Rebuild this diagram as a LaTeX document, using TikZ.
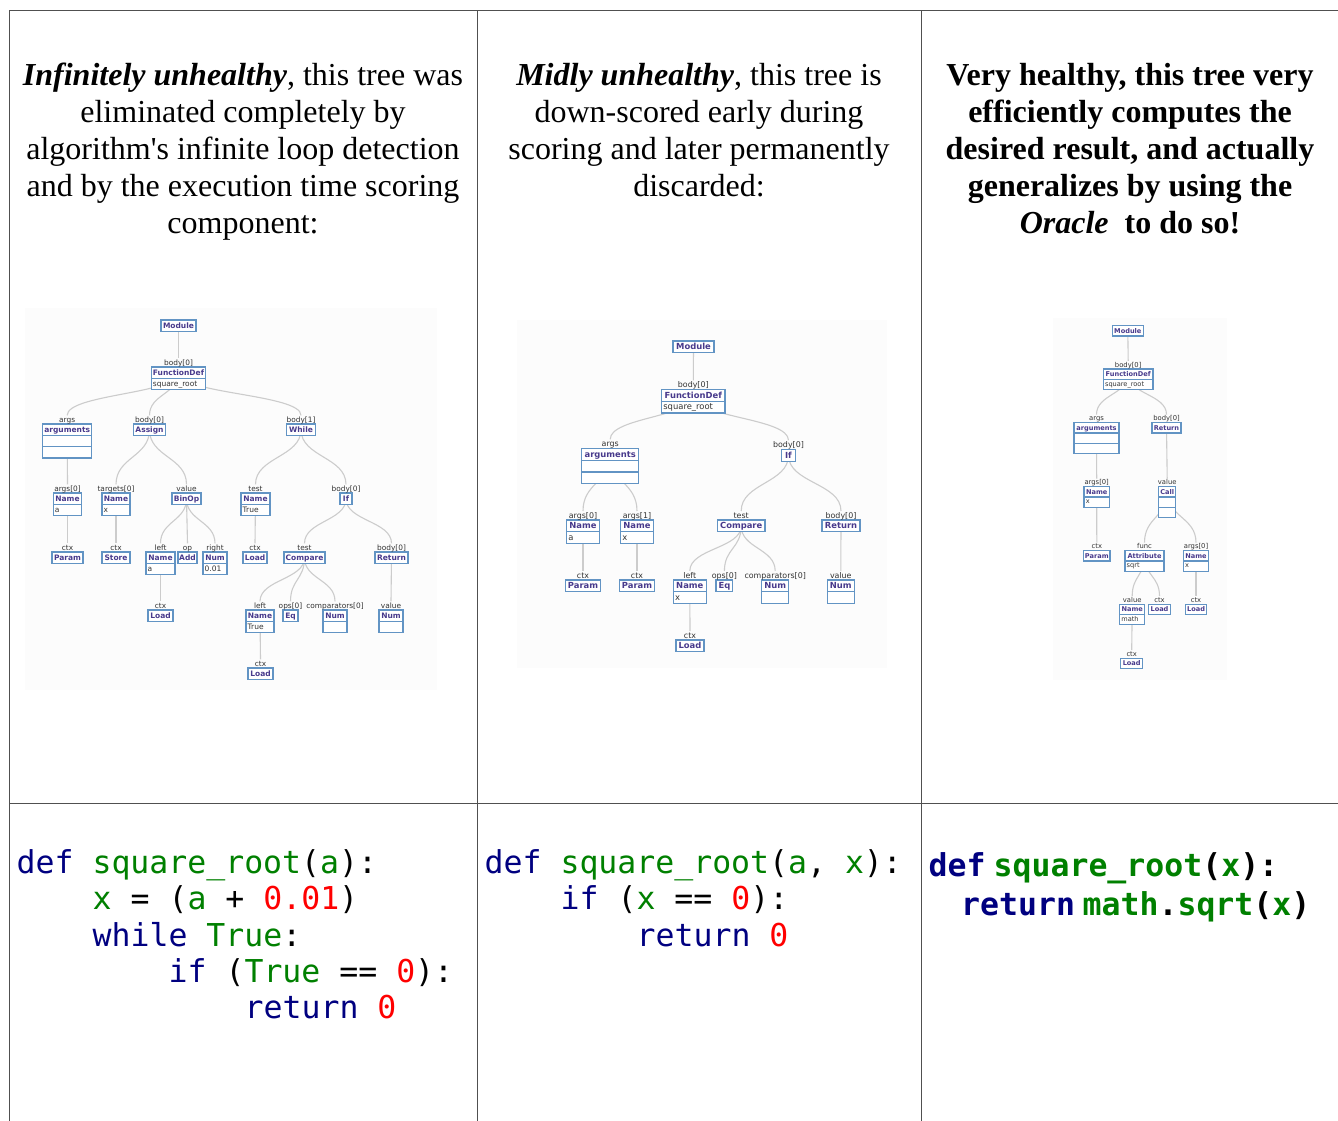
\documentclass[tikz,border=0pt]{standalone}
\usepackage{fontspec}
\setmainfont{Liberation Serif}
\newfontfamily\treefont{DejaVu Sans}
\newfontfamily\codefont{DejaVu Sans Mono}
\usetikzlibrary{calc}
\pgfdeclarelayer{bgrect}
\pgfdeclarelayer{edges}
\pgfsetlayers{bgrect,edges,main}
\definecolor{kw}{RGB}{0,0,128}
\definecolor{nm}{RGB}{0,128,0}
\definecolor{nb}{RGB}{255,0,0}
\definecolor{tborder}{RGB}{98,148,196}
\definecolor{ttype}{RGB}{72,58,140}
\definecolor{tedgec}{RGB}{204,204,204}
\definecolor{tlab}{RGB}{51,51,51}
\definecolor{gridc}{RGB}{80,80,80}
\definecolor{tbgc}{RGB}{252,252,252}
\newcommand\trh{11.3}
\newcommand\tfs{7.5}
\newcommand\lfs{7.4}
\newcommand\setT[3]{\renewcommand\trh{#1}\renewcommand\tfs{#2}\renewcommand\lfs{#3}}
% id, cx, ytop, width, label, type, extra rows, row text
\newcommand\astn[8]{%
  \node[tboxst, minimum width=#4pt, minimum height={(1+#7)*\trh*1pt}, anchor=north] (#1-box) at (#2,#3) {};
  \coordinate (#1) at (#2,{#3+\trh/2});
  \coordinate (#1-l) at (#2,{#3-3-0.76*\lfs});
  \node[ttypest] (#1-t) at (#2,{#3+\trh/2+0.36*\tfs}) {#6};
  \node[tlabst] (#1-lab) at (#2,{#3-2}) {#5};
  \ifnum#7>0 \draw[tlinest] ({#2-#4/2},{#3+\trh}) -- ({#2+#4/2},{#3+\trh});\fi
  \ifnum#7>1 \draw[tlinest] ({#2-#4/2},{#3+2*\trh}) -- ({#2+#4/2},{#3+2*\trh});\fi
  \node[trowst] (#1-r) at ({#2-#4/2+1.5},{#3+1.5*\trh+0.3*\tfs}) {#8};
}
\newcommand\aste[2]{%
  \path ($(#1)!0.5!(#2-l)$) coordinate (tmid);
  \draw[tedgest] (#1) .. controls (#1 |- tmid) and (#2-l |- tmid) .. (#2-l);
}
\tikzset{
  tboxst/.style={draw=tborder, line width=1.2pt, fill=white, inner sep=0pt, outer sep=0pt},
  tlinest/.style={draw=tborder, line width=1.2pt},
  ttypest/.style={font=\treefont\bfseries\fontsize{\tfs}{\tfs}\selectfont, text=ttype, anchor=base, inner sep=0pt},
  tlabst/.style={font=\treefont\fontsize{\lfs}{\lfs}\selectfont, text=tlab, anchor=base, inner sep=0pt},
  trowst/.style={font=\treefont\fontsize{\tfs}{\tfs}\selectfont, text=tlab, anchor=base west, inner sep=0pt},
  tedgest/.style={draw=tedgec, line width=1.1pt},
  gridst/.style={draw=gridc, line width=1pt},
  hdr/.style={font=\fontsize{32}{36.75}\selectfont, anchor=base, inner sep=0pt},
  codest/.style={font=\codefont\fontsize{31.5}{36}\selectfont, anchor=base west, inner sep=0pt},
  codeb/.style={font=\codefont\bfseries\fontsize{31.5}{36}\selectfont, anchor=base west, inner sep=0pt},
  treebg/.style={fill=tbgc, draw=none}
}
\begin{document}
\begin{tikzpicture}[x=1pt, y=-1pt]
\useasboundingbox (0,0) rectangle (1338,1121);
\begin{pgfonlayer}{bgrect}
\fill[white] (0,0) rectangle (1338,1121);
\path[treebg] (25,308) rectangle (437,690);
\path[treebg] (517,320) rectangle (887,668);
\path[treebg] (1053,318) rectangle (1227,680);
\end{pgfonlayer}
% table
\draw[gridst] (9,11) -- (1338,11);
\draw[gridst] (9,803) -- (1338,803);
\draw[gridst] (9,11) -- (9,1121);
\draw[gridst] (477,11) -- (477,1121);
\draw[gridst] (921,11) -- (921,1121);
% headers
\node[hdr] (h11) at (243,86) {\textbf{\textit{Infinitely unhealthy}}, this tree was};
\node[hdr] (h12) at (243,122.75) {eliminated completely by};
\node[hdr] (h13) at (243,159.5) {algorithm\textquotesingle s infinite loop detection};
\node[hdr] (h14) at (243,196.25) {and by the execution time scoring};
\node[hdr] (h15) at (243,233) {component:};
\node[hdr] (h21) at (699,86) {\textbf{\textit{Midly unhealthy}}, this tree is};
\node[hdr] (h22) at (699,122.75) {down-scored early during};
\node[hdr] (h23) at (699,159.5) {scoring and later permanently};
\node[hdr] (h24) at (699,196.25) {discarded:};
\node[hdr, font=\bfseries\fontsize{32}{36.75}\selectfont] (h31) at (1130,86) {Very healthy, this tree very};
\node[hdr, font=\bfseries\fontsize{32}{36.75}\selectfont] (h32) at (1130,122.75) {efficiently computes the};
\node[hdr, font=\bfseries\fontsize{32}{36.75}\selectfont] (h33) at (1130,159.5) {desired result, and actually};
\node[hdr, font=\bfseries\fontsize{32}{36.75}\selectfont] (h34) at (1130,196.25) {generalizes by using the};
\node[hdr, font=\bfseries\fontsize{32}{36.75}\selectfont] (h35) at (1130,233) {\textit{Oracle}\hspace{8pt} to do so!};
% ---------- tree 1
\setT{11.3}{7.5}{7.4}
\astn{a1}{178.5}{320}{35}{}{Module}{0}{}
\astn{a2}{178.5}{367}{54.5}{body[0]}{FunctionDef}{1}{square\_root}
\astn{a3}{67.2}{424}{49}{args}{arguments}{2}{}
\astn{a4}{149.5}{424}{31.5}{body[0]}{Assign}{0}{}
\astn{a5}{301}{424}{28.3}{body[1]}{While}{0}{}
\astn{a6}{67.5}{493}{28.5}{args[0]}{Name}{1}{a}
\astn{a7}{116}{493}{28}{targets[0]}{Name}{1}{x}
\astn{a8}{186.5}{493}{29}{value}{BinOp}{0}{}
\astn{a9}{255.5}{493}{29}{test}{Name}{1}{True}
\astn{a10}{346}{493}{12}{body[0]}{If}{0}{}
\astn{a11}{67.5}{552}{31}{ctx}{Param}{0}{}
\astn{a12}{116}{552}{28}{ctx}{Store}{0}{}
\astn{a13}{160.5}{552}{29}{left}{Name}{1}{a}
\astn{a14}{187.5}{552}{19}{op}{Add}{0}{}
\astn{a15}{215}{552}{24}{right}{Num}{1}{0.01}
\astn{a16}{255}{552}{24}{ctx}{Load}{0}{}
\astn{a17}{304.5}{552}{41}{test}{Compare}{0}{}
\astn{a18}{391.5}{552}{33}{body[0]}{Return}{0}{}
\astn{a19}{160.5}{610}{25}{ctx}{Load}{0}{}
\astn{a20}{260}{610}{28}{left}{Name}{1}{True}
\astn{a21}{290.5}{610}{15}{ops[0]}{Eq}{0}{}
\astn{a22}{335}{610}{24}{comparators[0]}{Num}{1}{}
\astn{a23}{391}{610}{24}{value}{Num}{1}{}
\astn{a24}{260.5}{668}{25}{ctx}{Load}{0}{}
\begin{pgfonlayer}{edges}
\aste{a1}{a2}\aste{a2}{a3}\aste{a2}{a4}\aste{a2}{a5}
\aste{a3}{a6}\aste{a6}{a11}\aste{a4}{a7}\aste{a4}{a8}\aste{a7}{a12}
\aste{a8}{a13}\aste{a8}{a14}\aste{a8}{a15}\aste{a13}{a19}
\aste{a5}{a9}\aste{a5}{a10}\aste{a9}{a16}\aste{a10}{a17}\aste{a10}{a18}
\aste{a17}{a20}\aste{a17}{a21}\aste{a17}{a22}\aste{a20}{a24}\aste{a18}{a23}
\end{pgfonlayer}
% ---------- tree 2
\setT{11.8}{8.4}{7.9}
\astn{b1}{693.5}{341}{41}{}{Module}{0}{}
\astn{b2}{693.3}{389.3}{63.3}{body[0]}{FunctionDef}{1}{square\_root}
\astn{b3}{610.2}{448.3}{57}{args}{arguments}{2}{}
\astn{b4}{788.5}{449.3}{13.6}{body[0]}{If}{0}{}
\astn{b5}{583}{520}{32.6}{args[0]}{Name}{1}{a}
\astn{b6}{637}{520}{32.6}{args[1]}{Name}{1}{x}
\astn{b7}{741.2}{520}{47.7}{test}{Compare}{0}{}
\astn{b8}{841}{520}{38}{body[0]}{Return}{0}{}
\astn{b9}{583}{580}{35.4}{ctx}{Param}{0}{}
\astn{b10}{637}{580}{35.4}{ctx}{Param}{0}{}
\astn{b11}{689.8}{580}{33}{left}{Name}{1}{x}
\astn{b12}{724.4}{580}{16.7}{ops[0]}{Eq}{0}{}
\astn{b13}{775.2}{580}{27}{comparators[0]}{Num}{1}{}
\astn{b14}{840.8}{580}{27}{value}{Num}{1}{}
\astn{b15}{690}{640}{28}{ctx}{Load}{0}{}
\begin{pgfonlayer}{edges}
\aste{b1}{b2}\aste{b2}{b3}\aste{b2}{b4}\aste{b3}{b5}\aste{b3}{b6}
\aste{b5}{b9}\aste{b6}{b10}\aste{b4}{b7}\aste{b4}{b8}
\aste{b7}{b11}\aste{b7}{b12}\aste{b7}{b13}\aste{b11}{b15}\aste{b8}{b14}
\end{pgfonlayer}
% ---------- tree 3
\setT{10.2}{6.6}{6.8}
\astn{c1}{1127.8}{325.7}{31}{}{Module}{0}{}
\astn{c2}{1128.2}{369}{49.7}{body[0]}{FunctionDef}{1}{square\_root}
\astn{c3}{1096.5}{422.7}{45}{args}{arguments}{2}{}
\astn{c4}{1166.5}{422.7}{29}{body[0]}{Return}{0}{}
\astn{c5}{1096.7}{486.7}{25.3}{args[0]}{Name}{1}{x}
\astn{c6}{1167.2}{486.7}{17}{value}{Call}{2}{}
\astn{c7}{1096.8}{550.7}{26.3}{ctx}{Param}{0}{}
\astn{c8}{1144.5}{550.7}{39}{func}{Attribute}{1}{sqrt}
\astn{c9}{1196}{550.7}{25.4}{args[0]}{Name}{1}{x}
\astn{c10}{1132.2}{604.3}{25}{value}{Name}{1}{math}
\astn{c11}{1159.5}{604.3}{22.4}{ctx}{Load}{0}{}
\astn{c12}{1196}{604.3}{21.4}{ctx}{Load}{0}{}
\astn{c13}{1131.7}{658.3}{22}{ctx}{Load}{0}{}
\begin{pgfonlayer}{edges}
\aste{c1}{c2}\aste{c2}{c3}\aste{c2}{c4}\aste{c3}{c5}\aste{c5}{c7}
\aste{c4}{c6}\aste{c6}{c8}\aste{c6}{c9}\aste{c8}{c10}\aste{c8}{c11}
\aste{c10}{c13}\aste{c9}{c12}
\end{pgfonlayer}
% ---------- code
\node[codest] (k11) at (16.5,873) {\textcolor{kw}{def} \textcolor{nm}{square\_root}(\textcolor{nm}{a}):};
\node[codest] (k12) at (92.5,909.5) {\textcolor{nm}{x} = (\textcolor{nm}{a} + \textcolor{nb}{0.01})};
\node[codest] (k13) at (92.5,946) {\textcolor{kw}{while} \textcolor{nm}{True}:};
\node[codest] (k14) at (168.5,982) {\textcolor{kw}{if} (\textcolor{nm}{True} == \textcolor{nb}{0}):};
\node[codest] (k15) at (244.5,1018.5) {\textcolor{kw}{return} \textcolor{nb}{0}};
\node[codest] (k21) at (484.5,873) {\textcolor{kw}{def} \textcolor{nm}{square\_root}(\textcolor{nm}{a}, \textcolor{nm}{x}):};
\node[codest] (k22) at (560.5,909.5) {\textcolor{kw}{if} (\textcolor{nm}{x} == \textcolor{nb}{0}):};
\node[codest] (k23) at (636.5,946) {\textcolor{kw}{return} \textcolor{nb}{0}};
\node[codeb] (k31) at (928.5,876.7) {\textcolor{kw}{def}};
\node[codeb] (k32) at (993.5,876.7) {\textcolor{nm}{square\_root}(\textcolor{nm}{x}):};
\node[codeb] (k33) at (961,915) {\textcolor{kw}{return}};
\node[codeb] (k34) at (1082.5,915) {\textcolor{nm}{math}.\textcolor{nm}{sqrt}(\textcolor{nm}{x})};
\end{tikzpicture}
\end{document}
